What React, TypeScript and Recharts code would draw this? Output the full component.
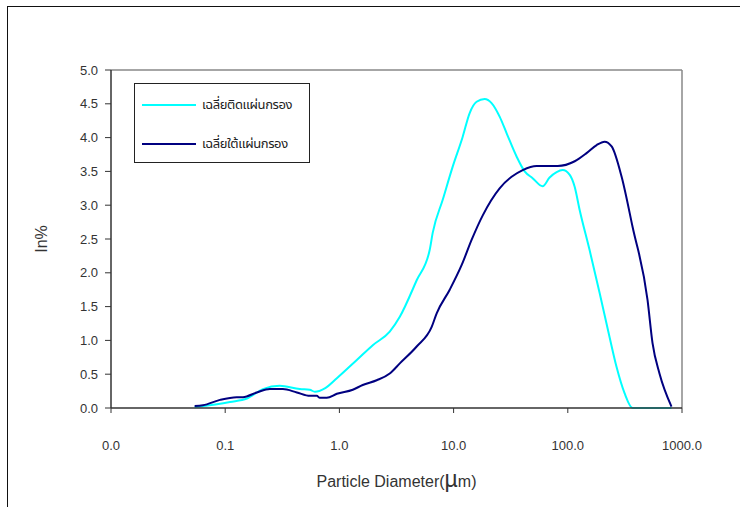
import React from "react";
import {
  Label,
  Line,
  LineChart,
  ReferenceLine,
  XAxis,
  YAxis,
} from "recharts";

// particle size (µm) / volume % — sample collected on the filter sheet
const onFilterSize = [
  0.054, 0.11, 0.155, 0.214, 0.3, 0.45, 0.55, 0.61, 0.745, 0.95, 1.42, 1.96,
  2.76, 3.38, 4.75, 6.18, 6.56, 8.03, 9.82, 12.0, 13.8, 15.9, 18.7, 21.5, 25.3,
  29.2, 35.6, 41.9, 49.2, 60.2, 69.3, 79.8, 90.1, 104, 115, 127, 155, 190, 232,
  267, 314, 369, 809,
];
const onFilterPct = [
  0.01, 0.09, 0.14, 0.28, 0.33, 0.28, 0.27, 0.24, 0.29, 0.44, 0.71, 0.93, 1.13,
  1.35, 1.89, 2.34, 2.59, 3.08, 3.57, 4.01, 4.36, 4.53, 4.57, 4.51, 4.31, 4.06,
  3.72, 3.5, 3.4, 3.28, 3.41, 3.49, 3.52, 3.45, 3.27, 2.93, 2.34, 1.7, 1.05,
  0.61, 0.22, 0.0, 0.0,
];

// sample collected below the filter sheet
const underFilterSize = [
  0.054, 0.0638, 0.09, 0.126, 0.143, 0.189, 0.246, 0.32, 0.424, 0.551, 0.634,
  0.674, 0.776, 0.95, 1.31, 1.6, 2.12, 2.76, 3.38, 4.75, 6.43, 7.11, 9.25, 11.8,
  14.4, 18.0, 25.3, 32.2, 40.3, 53.3, 81.5, 115, 146, 179, 210, 242, 296, 369,
  499, 552, 635, 809,
];
const underFilterPct = [
  0.03, 0.04, 0.12, 0.16, 0.16, 0.23, 0.28, 0.28, 0.23, 0.18, 0.18, 0.15, 0.15,
  0.21, 0.27, 0.34, 0.41, 0.51, 0.66, 0.91, 1.2, 1.4, 1.75, 2.12, 2.49, 2.85,
  3.25, 3.42, 3.52, 3.58, 3.58, 3.65, 3.77, 3.89, 3.94, 3.87, 3.42, 2.68, 1.6,
  0.96, 0.51, 0.02,
];

const xTicks = [0.01, 0.1, 1, 10, 100, 1000];
const yTicks = [0, 0.5, 1, 1.5, 2, 2.5, 3, 3.5, 4, 4.5, 5];

const seriesA = { name: "เฉลี่ยติดแผ่นกรอง", color: "#00FFFF" };
const seriesB = { name: "เฉลี่ยใต้แผ่นกรอง", color: "#000080" };

const onFilter = onFilterSize.map((d, i) => ({ d, v: onFilterPct[i] }));
const underFilter = underFilterSize.map((d, i) => ({ d, v: underFilterPct[i] }));

const FONT = "Arial, 'Liberation Sans', Helvetica, sans-serif";
const tickStyle = { fontSize: 13, fill: "#333", fontFamily: FONT };

// legend box sits inside the plot, top-left
function LegendBox() {
  const rows = [seriesA, seriesB];
  return (
    <div
      style={{
        position: "absolute",
        left: 134,
        top: 83,
        width: 176,
        height: 80,
        border: "1px solid #222",
        background: "#fff",
        boxSizing: "border-box",
      }}
    >
      {rows.map((r, i) => (
        <div
          key={r.name}
          style={{
            position: "absolute",
            left: 7,
            top: i === 0 ? 10 : 49,
            display: "flex",
            alignItems: "center",
            height: 22,
          }}
        >
          <div style={{ width: 54, height: 2, background: r.color, marginRight: 6 }} />
          <span
            style={{
              fontFamily: "'Noto Sans Thai', 'Noto Sans', sans-serif",
              fontSize: 13,
              color: "#222",
              letterSpacing: -0.4,
              whiteSpace: "nowrap",
            }}
          >
            {r.name}
          </span>
        </div>
      ))}
    </div>
  );
}

function XTitle({ viewBox }: any) {
  const cx = viewBox.x + viewBox.width / 2;
  return (
    <text x={cx} y={487} textAnchor="middle" fontFamily={FONT} fontSize={16} fill="#333">
      <tspan>Particle Diameter(</tspan>
      <tspan fontSize={23}>µ</tspan>
      <tspan>m)</tspan>
    </text>
  );
}

export default function App() {
  return (
    <div
      style={{
        position: "absolute",
        left: 0,
        top: 0,
        width: 740,
        height: 507,
        background: "#fff",
        overflow: "hidden",
      }}
    >
      <div
        style={{
          position: "absolute",
          left: 7,
          top: 6,
          width: 760,
          height: 520,
          borderLeft: "1.5px solid #111",
          borderTop: "1.5px solid #111",
        }}
      />
      <LineChart
        width={740}
        height={507}
        margin={{ top: 70, right: 58, bottom: 39, left: 0 }}
        style={{ position: "absolute", left: 0, top: 0 }}
      >
        <XAxis
          type="number"
          dataKey="d"
          scale="log"
          domain={[0.01, 1000]}
          ticks={xTicks}
          allowDataOverflow
          tickFormatter={(v: number) => v.toFixed(1)}
          tick={tickStyle}
          tickSize={5}
          tickMargin={28}
          height={60}
          stroke="#333"
          axisLine={{ stroke: "#333", strokeWidth: 1.5 }}
          tickLine={{ stroke: "#333" }}
        >
          <Label content={<XTitle />} />
        </XAxis>
        <YAxis
          type="number"
          domain={[0, 5]}
          ticks={yTicks}
          tickFormatter={(v: number) => v.toFixed(1)}
          tick={tickStyle}
          tickSize={6}
          tickMargin={7}
          width={111}
          axisLine={{ stroke: "#333", strokeWidth: 1.5 }}
          tickLine={{ stroke: "#333" }}
        >
          <Label
            value="In%"
            angle={-90}
            position="insideLeft"
            offset={41}
            style={{ fontFamily: FONT, fontSize: 16, fill: "#333", textAnchor: "middle" }}
          />
        </YAxis>
        <ReferenceLine y={5} stroke="#888" strokeWidth={1.5} />
        <ReferenceLine x={1000} stroke="#888" strokeWidth={1.5} />
        <Line
          data={onFilter}
          dataKey="v"
          name={seriesA.name}
          type="monotone"
          stroke={seriesA.color}
          strokeWidth={2}
          dot={false}
          isAnimationActive={false}
        />
        <Line
          data={underFilter}
          dataKey="v"
          name={seriesB.name}
          type="monotone"
          stroke={seriesB.color}
          strokeWidth={2}
          dot={false}
          isAnimationActive={false}
        />
      </LineChart>
      <LegendBox />
    </div>
  );
}
